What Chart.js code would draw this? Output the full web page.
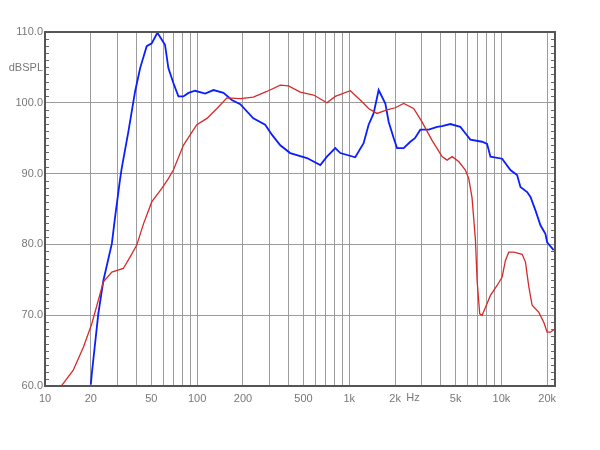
<!DOCTYPE html>
<html>
<head>
<meta charset="utf-8">
<script src="https://cdn.jsdelivr.net/npm/chart.js@4.4.1/dist/chart.umd.min.js"></script>
<style>
  html, body { margin: 0; padding: 0; background: #fff; }
  #wrap { width: 600px; height: 450px; }
</style>
</head>
<body>
<div id="wrap"><canvas id="spl" width="600" height="450"></canvas></div>
<script>
// blue trace (Hz / dB SPL)
const blueFreq = [20, 20.3, 22.4, 24.2, 27.5, 28.9, 31.1, 31.9, 35.3, 39.1, 42.2, 46.6, 50.3, 54.8, 61.5, 64.7, 69.8, 75.3, 81.2, 87.7, 97, 113, 128, 149, 169, 192,
  234, 280, 310, 352, 409, 527, 645, 713, 809, 873, 1094, 1242, 1340, 1445, 1560, 1726, 1816, 1960, 2061, 2277, 2518, 2700, 2931, 3329, 3776, 4074, 4616,
  5370, 5794, 6250, 7463, 8050, 8470, 10110, 11460, 12680, 13340, 14760, 15530, 16740, 18060, 19460, 19980, 22060];
const blueSpl = [60.2, 61.7, 70.2, 74.9, 80.1, 83.9, 89.1, 90.7, 95.9, 101.6, 104.9, 108.0, 108.4, 109.9, 108.2, 104.9, 102.8, 100.9, 100.9, 101.4, 101.7, 101.3, 101.8, 101.4, 100.4, 99.8,
  97.8, 96.9, 95.5, 94.0, 92.9, 92.2, 91.2, 92.4, 93.6, 92.9, 92.3, 94.3, 96.9, 98.5, 101.8, 99.9, 97.3, 95.0, 93.6, 93.6, 94.5, 95.0, 96.2, 96.2, 96.6, 96.7, 97.0,
  96.6, 95.7, 94.8, 94.5, 94.2, 92.4, 92.1, 90.5, 89.8, 88.1, 87.4, 86.7, 84.8, 82.7, 81.5, 80.3, 79.2];

// red trace
const redFreq = [12.6, 15.3, 17.9, 20.3, 22.4, 24.2, 27.5, 32.7, 36.2, 40.1, 44.4, 50.3, 58.6, 64.7, 69.8, 81.2, 99.5, 116, 135, 157, 192,
  234, 287, 352, 399, 476, 583, 713, 809, 1016, 1180, 1340, 1520, 1770, 2008, 2277, 2649, 3006, 3500, 4074, 4395, 4740, 5240, 5794, 6100,
  6410, 6750, 6920, 7200, 7463, 7850, 8470, 9370, 10110, 10620, 11170, 12060, 13680, 14390, 15140, 15920, 17620, 18980, 19980, 21000, 22600];
const redSpl = [59.8, 62.2, 65.5, 68.8, 72.1, 74.7, 76.1, 76.6, 78.2, 79.9, 82.9, 86.0, 87.9, 89.3, 90.5, 94.0, 96.9, 97.8, 99.2, 100.7, 100.6,
  100.8, 101.6, 102.5, 102.4, 101.5, 101.1, 100.0, 100.9, 101.7, 100.4, 99.2, 98.5, 99.0, 99.3, 99.9, 99.2, 97.3, 94.7, 92.4, 91.9, 92.4, 91.7, 90.5, 89.3,
  86.6, 80.6, 74.9, 70.2, 70.0, 71.1, 72.8, 74.2, 75.4, 77.7, 78.9, 78.9, 78.6, 77.5, 74.0, 71.4, 70.4, 69.0, 67.6, 67.6, 68.1];

const freqLabels = [10, 20, 50, 100, 200, 500, 1000, 2000, 5000, 10000, 20000];
const splMin = 60, splMax = 110;

function pts(xs, ys) {
  return xs.map((f, i) => ({ x: f, y: ys[i] }));
}

const frame = {
  id: "frame",
  afterDraw(chart) {
    const { ctx, chartArea: a, scales } = chart;
    const ys = scales.y;
    ctx.save();
    // small dB ticks on both sides
    ctx.strokeStyle = "#666";
    ctx.lineWidth = 1;
    for (let v = splMin + 1; v < splMax; v++) {
      if (v % 10 === 0) continue;
      const py = Math.round(ys.getPixelForValue(v)) + 0.5;
      ctx.beginPath();
      ctx.moveTo(a.left, py); ctx.lineTo(a.left + 4, py);
      ctx.moveTo(a.right - 4, py); ctx.lineTo(a.right, py);
      ctx.stroke();
    }
    ctx.strokeStyle = "#555";
    ctx.lineWidth = 2;
    ctx.strokeRect(a.left, a.top, a.right - a.left, a.bottom - a.top);

    ctx.fillStyle = "#777";
    ctx.font = "11px 'Liberation Sans', Arial, sans-serif";
    ctx.textAlign = "right";
    ctx.textBaseline = "middle";
    ctx.fillText("dBSPL", a.left - 2, 68);
    ctx.textAlign = "center";
    ctx.fillText("Hz", 413, a.bottom + 12);
    ctx.restore();
  }
};

new Chart(document.getElementById("spl").getContext("2d"), {
  type: "line",
  data: {
    datasets: [
      { data: pts(redFreq, redSpl), borderColor: "#d42a2a", borderWidth: 1.3, pointRadius: 0, tension: 0 },
      { data: pts(blueFreq, blueSpl), borderColor: "#0a1eff", borderWidth: 1.8, pointRadius: 0, tension: 0 }
    ]
  },
  options: {
    responsive: false,
    animation: false,
    layout: { padding: { left: 0, top: 32, right: 45, bottom: 0 } },
    plugins: { legend: { display: false }, tooltip: { enabled: false } },
    scales: {
      x: {
        type: "logarithmic",
        min: 10,
        max: 22500,
        afterBuildTicks(scale) {
          const t = [];
          for (let d = 10; d <= 10000; d *= 10) {
            for (let m = 1; m <= 9; m++) {
              if (d * m <= 22500) t.push({ value: d * m });
            }
          }
          scale.ticks = t;
        },
        afterFit(scale) { scale.height = 64; },
        grid: { color: "#9c9c9c", lineWidth: 1, drawTicks: false },
        border: { display: false },
        ticks: {
          autoSkip: false,
          maxRotation: 0,
          padding: 6,
          color: "#777",
          font: { family: "'Liberation Sans', Arial, sans-serif", size: 11 },
          callback(v) {
            if (!freqLabels.includes(v)) return "";
            return v >= 1000 ? (v / 1000) + "k" : String(v);
          }
        }
      },
      y: {
        min: splMin,
        max: splMax,
        afterFit(scale) { scale.width = 45; },
        grid: { color: "#9c9c9c", lineWidth: 1, drawTicks: false },
        border: { display: false },
        ticks: {
          stepSize: 10,
          padding: 2,
          color: "#777",
          font: { family: "'Liberation Sans', Arial, sans-serif", size: 11 },
          callback(v) { return v.toFixed(1); }
        }
      }
    }
  },
  plugins: [frame]
});
</script>
</body>
</html>
